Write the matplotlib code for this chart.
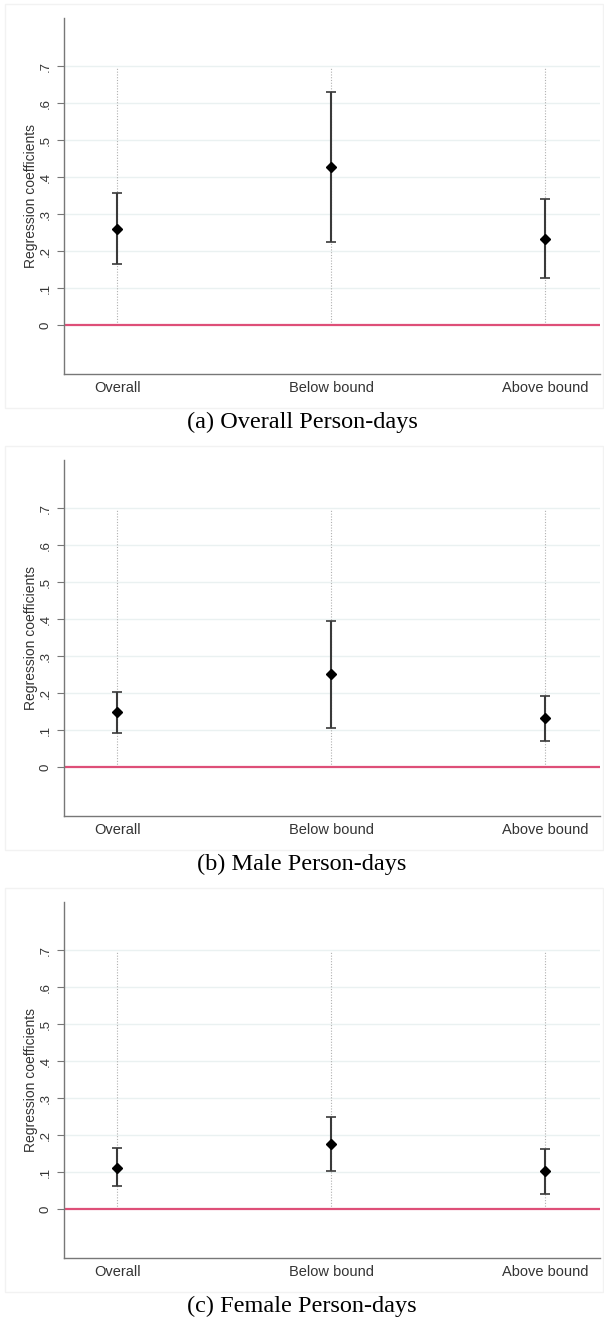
from matplotlib import pyplot as plt
from matplotlib.patches import Rectangle
import numpy as np

categories = ["Overall", "Below bound", "Above bound"]
yticks = [0, 0.1, 0.2, 0.3, 0.4, 0.5, 0.6, 0.7]
ytick_labels = ["0", ".1", ".2", ".3", ".4", ".5", ".6", ".7"]

overall_coef = [0.261, 0.427, 0.234]
overall_lo = [0.165, 0.224, 0.127]
overall_hi = [0.358, 0.631, 0.341]

male_coef = [0.149, 0.251, 0.132]
male_lo = [0.092, 0.106, 0.071]
male_hi = [0.204, 0.396, 0.193]

female_coef = [0.112, 0.176, 0.102]
female_lo = [0.062, 0.104, 0.042]
female_hi = [0.164, 0.248, 0.162]

captions = ["(a) Overall Person-days", "(b) Male Person-days", "(c) Female Person-days"]

W, H = 604, 1326
fig = plt.figure(figsize=(W / 100, H / 100), dpi=100)


def coefPlot(ax, coef, lo, hi):
    x = np.arange(1, len(categories) + 1)
    coef = np.array(coef)
    err = [coef - np.array(lo), np.array(hi) - coef]
    for y in yticks[1:]:
        ax.axhline(y, color='#eaf1f1', lw=1, zorder=0)
    ax.vlines(x, 0, 0.695, colors='#b0b0b0', linestyles=(0, (1, 1.5)), lw=0.8, zorder=1)
    ax.axhline(0, color='#de4f78', lw=1.6, zorder=2)
    ax.errorbar(x, coef, yerr=err, fmt='none', ecolor='#3a3a3a', elinewidth=1.5,
                capsize=3.5, capthick=1.2, zorder=3)
    ax.plot(x, coef, 'D', color='black', ms=5.5, zorder=4)
    ax.set_xlim(0.752, 3.255)
    ax.set_ylim(-0.132, 0.83)
    ax.set_yticks(yticks)
    ax.set_yticklabels(ytick_labels, rotation=90, va='center', fontsize=9.5,
                       family='Liberation Sans', color='#333333')
    ax.set_xticks(x)
    ax.set_xticklabels(categories, fontsize=10.5, family='Liberation Sans', color='#333333')
    ax.tick_params(axis='x', length=0, pad=5)
    ax.tick_params(axis='y', length=5, color='#777777', width=0.8, pad=4)
    ax.set_ylabel('Regression coefficients', fontsize=10, family='Liberation Sans',
                  color='#333333', labelpad=1)
    for s in ['top', 'right']:
        ax.spines[s].set_visible(False)
    for s in ['left', 'bottom']:
        ax.spines[s].set_color('#777777')
        ax.spines[s].set_linewidth(1)


data = [(overall_coef, overall_lo, overall_hi),
        (male_coef, male_lo, male_hi),
        (female_coef, female_lo, female_hi)]

for i, (coef, lo, hi) in enumerate(data):
    off = 442 * i
    top, bottom, left, right = 18 + off, 374 + off, 64, 600
    fig.patches.append(Rectangle((5 / W, 1 - (408 + off) / H), 598 / W, 404 / H,
                                 transform=fig.transFigure, fill=False,
                                 edgecolor='#f2f2f2', lw=1))
    ax = fig.add_axes([left / W, 1 - bottom / H, (right - left) / W, (bottom - top) / H])
    coefPlot(ax, coef, lo, hi)
    fig.text(0.5, 1 - (422 + off) / H, captions[i], ha='center', va='center',
             fontsize=17.5, family='Liberation Serif')

plt.savefig('out.png', dpi=100)
